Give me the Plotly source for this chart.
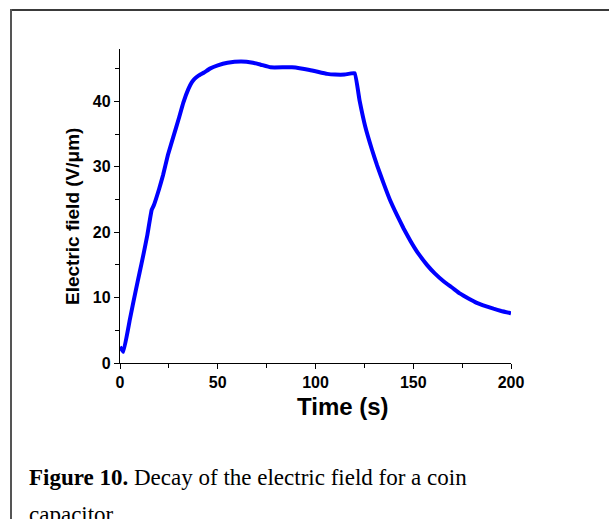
import plotly.graph_objects as go

# Data
time_s = [0, 1.7, 5, 8, 10, 12, 14, 16.2, 17.3, 20, 22, 24.5, 27.3, 30, 32.4, 35, 36.7, 38,
          40, 43, 46, 50, 55, 62, 68, 72, 77, 88, 97, 106, 110, 115, 120,
          122.5, 125.4, 128.9, 131.5, 134.8, 138, 141.7, 145, 148.5, 152, 157, 161,
          165.5, 170, 174, 178, 182.5, 187, 191, 195, 200]
field = [2.5, 1.7, 6.6, 11.0, 13.8, 16.6, 19.6, 23.4, 24.1, 26.6, 28.7, 31.8, 34.6, 37.3,
         39.8, 41.9, 42.9, 43.4, 43.9, 44.4, 45.0, 45.5, 45.9, 46.1, 45.9, 45.6, 45.2,
         45.2, 44.8, 44.2, 44.1, 44.1, 44.3,
         40.2, 36.2, 32.6, 30.2, 27.5, 25.0, 22.6, 20.6, 18.7, 17.0, 15.0, 13.7,
         12.5, 11.5, 10.6, 9.9, 9.2, 8.7, 8.3, 7.95, 7.6]

x_ticks = [0, 50, 100, 150, 200]
y_ticks = [0, 10, 20, 30, 40]

W, H = 609, 519
L, R, T, B = 120, 98, 49, 156
pw, ph = W - L - R, H - T - B


def px(x):
    return (x - L) / pw


def py(y):
    return (H - B - y) / ph


fig = go.Figure()
fig.add_trace(go.Scatter(x=time_s, y=field, mode="lines",
                         line=dict(color="#0000ff", width=4, shape="spline", smoothing=0.3),
                         showlegend=False))

tick_font = dict(family="Liberation Sans", size=16, color="black", weight="bold")

fig.update_xaxes(range=[0, 200], tickvals=x_ticks, ticks="outside", ticklen=5, tickwidth=1.3,
                 tickcolor="black", showline=True, linecolor="black", linewidth=1.3,
                 showgrid=False, zeroline=False, tickfont=tick_font,
                 minor=dict(ticks="outside", ticklen=4, tickwidth=1.2, tickcolor="black",
                            tickvals=[25, 75, 125, 175], showgrid=False))
fig.update_yaxes(range=[0, 48], tickvals=y_ticks, ticks="outside", ticklen=5, tickwidth=1.3,
                 tickcolor="black", showline=True, linecolor="black", linewidth=1.3,
                 showgrid=False, zeroline=False, tickfont=tick_font,
                 minor=dict(ticks="outside", ticklen=4, tickwidth=1.2, tickcolor="black",
                            tickvals=[5, 15, 25, 35, 45], showgrid=False))

annotations = [
    dict(text="Electric field (V/\u03bcm)", x=px(72), y=py(217), xref="paper", yref="paper",
         textangle=-90, showarrow=False, xanchor="center", yanchor="middle",
         font=dict(family="Liberation Sans", size=19, color="black", weight="bold")),
    dict(text="Time (s)", x=px(342.5), y=py(406), xref="paper", yref="paper",
         showarrow=False, xanchor="center", yanchor="middle",
         font=dict(family="Liberation Sans", size=24, color="black", weight="bold")),
    dict(text="<b>Figure 10.</b> Decay of the electric field for a coin", x=px(27), y=py(477),
         xref="paper", yref="paper", showarrow=False, xanchor="left", yanchor="middle",
         font=dict(family="Liberation Serif", size=23, color="black")),
    dict(text="capacitor", x=px(27), y=py(514), xref="paper", yref="paper",
         showarrow=False, xanchor="left", yanchor="middle",
         font=dict(family="Liberation Serif", size=23, color="black")),
]

shapes = [
    dict(type="line", xref="paper", yref="paper", x0=px(10), x1=px(615), y0=py(10), y1=py(10),
         line=dict(color="#3a3a3a", width=2)),
    dict(type="line", xref="paper", yref="paper", x0=px(11), x1=px(11), y0=py(9), y1=py(530),
         line=dict(color="#555555", width=2)),
]

fig.update_layout(width=W, height=H, margin=dict(l=L, r=R, t=T, b=B),
                  plot_bgcolor="white", paper_bgcolor="white",
                  annotations=annotations, shapes=shapes)

fig.write_html("out.html")
